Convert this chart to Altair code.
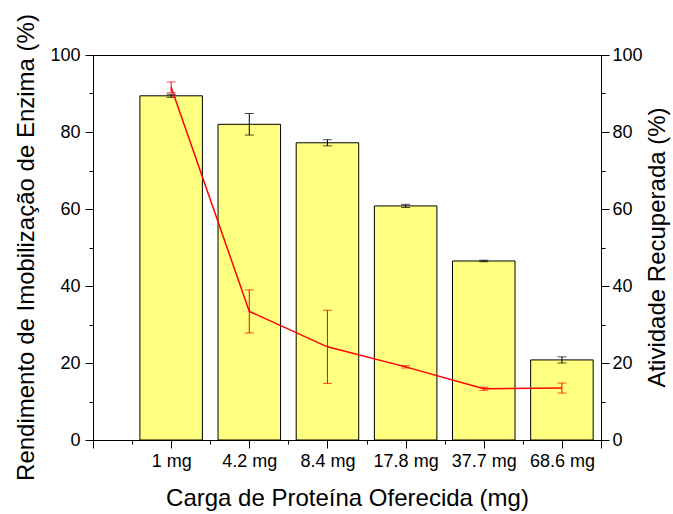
import json
import altair as alt
import pandas as pd

# Protein load offered (x categories) and the two measured responses
categorias = ["1 mg", "4.2 mg", "8.4 mg", "17.8 mg", "37.7 mg", "68.6 mg"]
posicao = [1, 2, 3, 4, 5, 6]
rendimento = [89.4, 82.0, 77.2, 60.8, 46.5, 20.8]       # immobilization yield (%)
rendimento_err = [0.4, 2.8, 0.8, 0.4, 0.2, 0.8]
atividade = [91.6, 33.4, 24.2, 19.0, 13.3, 13.5]        # recovered activity (%)
atividade_err = [1.4, 5.6, 9.5, 0.3, 0.4, 1.3]

df = pd.DataFrame({
    "pos": posicao,
    "cat": categorias,
    "rend": rendimento,
    "rend_err": rendimento_err,
    "ativ": atividade,
    "ativ_err": atividade_err,
})

FONT = "Liberation Sans"

x_scale = alt.Scale(domain=[0, 6.5], nice=False, zero=False)
y_scale = alt.Scale(domain=[0, 100], nice=False)

label_lookup = json.dumps([""] + categorias)
x_axis = alt.Axis(
    title="Carga de Proteína Oferecida (mg)",
    values=[i * 0.5 for i in range(14)],
    labelExpr=f"(datum.value % 1 === 0 && datum.value >= 1 && datum.value <= 6) ? {label_lookup}[datum.value] : ''",
    tickSize={"condition": {"test": "datum.value % 1 === 0 || datum.value === 6.5", "value": 8}, "value": 4},
    grid=False,
    labelPadding=4,
    titleY=58,
    titleBaseline="middle",
)


def y_axis(title, orient, title_x, pad):
    return alt.Axis(
        title=title,
        orient=orient,
        values=list(range(0, 101, 10)),
        labelExpr="datum.value % 20 === 0 ? datum.label : ''",
        tickSize={"condition": {"test": "datum.value % 20 === 0", "value": 8}, "value": 4},
        grid=False,
        labelPadding=pad,
        titleAngle=270,
        titleX=title_x,
        titleY=192,
        titleAlign="center",
        titleBaseline="middle",
    )


left_axis = y_axis("Rendimento de Imobilização de Enzima (%)", "left", -67, 5)
right_axis = y_axis("Atividade Recuperada (%)", "right", 56, 3)

base = alt.Chart(df).transform_calculate(
    x0="datum.pos - 0.4",
    x1="datum.pos + 0.4",
    zero="0",
    rlo="datum.rend - datum.rend_err",
    rhi="datum.rend + datum.rend_err",
    alo="datum.ativ - datum.ativ_err",
    ahi="datum.ativ + datum.ativ_err",
)


def xpos(field="pos:Q"):
    return alt.X(field, scale=x_scale, axis=x_axis)


def yleft(field):
    return alt.Y(field, scale=y_scale, axis=left_axis)


def yright(field):
    return alt.Y(field, scale=y_scale, axis=right_axis)


bars = base.mark_bar(fill="#FFFF80", stroke="black", strokeWidth=1).encode(
    x=xpos("x0:Q"), x2="x1:Q", y=yleft("rend:Q"), y2="zero:Q",
)
bar_err = base.mark_rule(color="black", strokeWidth=1).encode(
    x=xpos(), y=yleft("rlo:Q"), y2="rhi:Q",
)
bar_cap_lo = base.mark_tick(color="black", orient="horizontal", size=9, thickness=1).encode(
    x=xpos(), y=yleft("rlo:Q"),
)
bar_cap_hi = base.mark_tick(color="black", orient="horizontal", size=9, thickness=1).encode(
    x=xpos(), y=yleft("rhi:Q"),
)

line = base.mark_line(color="#FF0000", strokeWidth=1.5).encode(
    x=xpos(), y=yright("ativ:Q"),
)
line_err = base.mark_rule(color="#FF0000", strokeWidth=1).encode(
    x=xpos(), y=yright("alo:Q"), y2="ahi:Q",
)
line_cap_lo = base.mark_tick(color="#FF0000", orient="horizontal", size=9, thickness=1).encode(
    x=xpos(), y=yright("alo:Q"),
)
line_cap_hi = base.mark_tick(color="#FF0000", orient="horizontal", size=9, thickness=1).encode(
    x=xpos(), y=yright("ahi:Q"),
)

left = alt.layer(bars, bar_err, bar_cap_lo, bar_cap_hi)
right = alt.layer(line, line_err, line_cap_lo, line_cap_hi)

chart = alt.layer(left, right).resolve_scale(y="independent").properties(
    width=508,
    height=385,
    autosize=alt.AutoSizeParams(type="none"),
    padding={"left": 93, "top": 55, "right": 72, "bottom": 74},
    background="white",
).configure_view(
    stroke="black", strokeWidth=1
).configure_axis(
    labelFont=FONT, titleFont=FONT, labelFontSize=18, titleFontSize=24,
    labelColor="black", titleColor="black", titleFontWeight="normal",
    domainColor="black", tickColor="black", domainWidth=1, tickWidth=1,
)

chart.save("out.html", embed_options={"renderer": "svg", "actions": False})
